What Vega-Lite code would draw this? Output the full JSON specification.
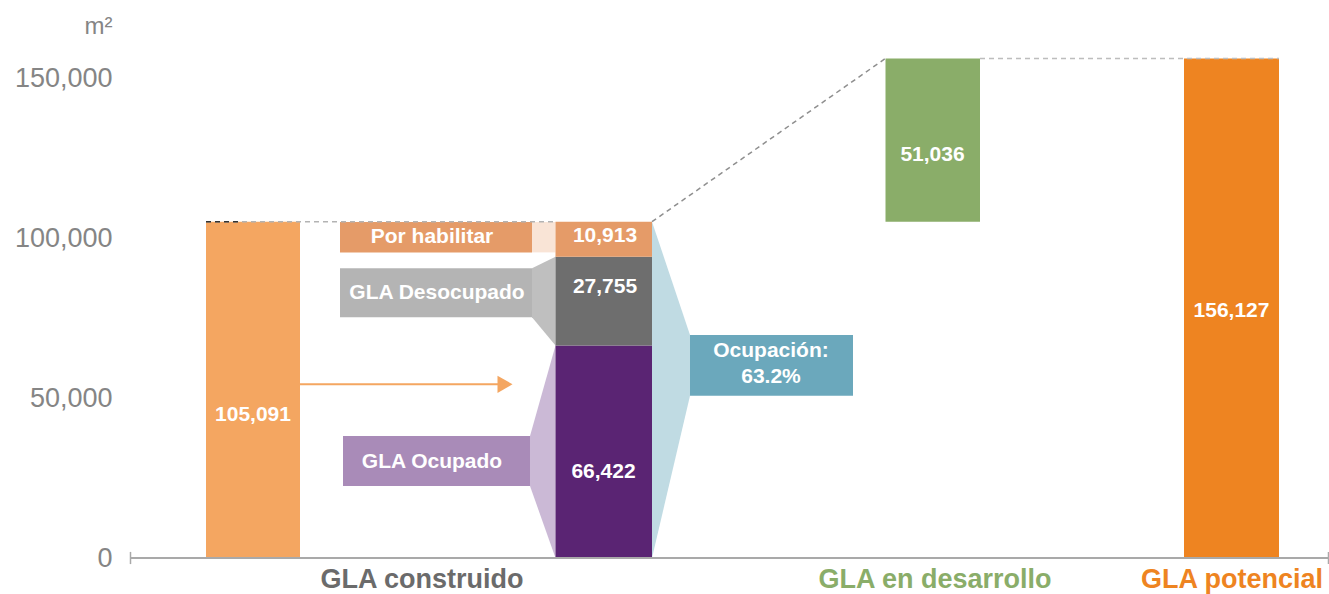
{
  "$schema": "https://vega.github.io/schema/vega-lite/v6.json",
  "width": 1199,
  "height": 528,
  "autosize": {"type": "none"},
  "padding": {"left": 130, "top": 30, "right": 0, "bottom": 36},
  "background": "white",
  "config": {
    "view": {"stroke": null},
    "font": "Liberation Sans",
    "axisY": {"domain": false, "ticks": false, "grid": false,
      "labelPadding": 18, "labelFontSize": 27, "labelColor": "#858585", "labelFont": "Liberation Sans",
      "titleAngle": 0, "titleX": -32, "titleY": -4, "titleAlign": "center", "titleBaseline": "middle",
      "titleFontSize": 24, "titleFontWeight": "normal", "titleColor": "#858585", "titleFont": "Liberation Sans"}
  },
  "resolve": {"scale": {"color": "independent"}},
  "datasets": {
    "bars": [
      {"name": "construido", "x0": 7.6, "x1": 17.0, "lo": 0, "hi": 105091},
      {"name": "ocupado", "x0": 42.55, "x1": 52.2, "lo": 0, "hi": 66422},
      {"name": "desocupado", "x0": 42.55, "x1": 52.2, "lo": 66422, "hi": 94177},
      {"name": "por_habilitar", "x0": 42.55, "x1": 52.2, "lo": 94177, "hi": 105090},
      {"name": "desarrollo", "x0": 75.55, "x1": 85.0, "lo": 105091, "hi": 156127},
      {"name": "potencial", "x0": 105.4, "x1": 114.9, "lo": 0, "hi": 156127},
      {"name": "box_por", "x0": 21.0, "x1": 40.2, "lo": 95500, "hi": 105000},
      {"name": "box_des", "x0": 21.0, "x1": 40.2, "lo": 75220, "hi": 90530},
      {"name": "box_ocu", "x0": 21.3, "x1": 40.0, "lo": 22500, "hi": 38125},
      {"name": "box_ocup", "x0": 56.0, "x1": 72.3, "lo": 50720, "hi": 69690}
    ],
    "links": [
      {"link": "por", "x": 40.2, "top": 105000, "bot": 95500},
      {"link": "por", "x": 42.55, "top": 105000, "bot": 95500},
      {"link": "des", "x": 40.2, "top": 90530, "bot": 75220},
      {"link": "des", "x": 42.55, "top": 94177, "bot": 66422},
      {"link": "ocu", "x": 40.0, "top": 38125, "bot": 22500},
      {"link": "ocu", "x": 42.55, "top": 66422, "bot": 0},
      {"link": "ocup", "x": 52.2, "top": 105090, "bot": 0},
      {"link": "ocup", "x": 56.0, "top": 69690, "bot": 50720}
    ],
    "dashes": [
      {"seg": "a", "x": 7.6, "y": 105091},
      {"seg": "a", "x": 42.55, "y": 105091},
      {"seg": "d", "x": 7.6, "y": 105091},
      {"seg": "d", "x": 11.0, "y": 105091},
      {"seg": "b", "x": 52.2, "y": 105090},
      {"seg": "b", "x": 75.55, "y": 156127},
      {"seg": "c", "x": 85.0, "y": 156127},
      {"seg": "c", "x": 114.9, "y": 156127}
    ],
    "arrow": [
      {"x": 17.0, "y": 54280},
      {"x": 36.8, "y": 54280}
    ],
    "arrowhead": [
      {"x": 37.5, "y": 54280}
    ],
    "axisline": [
      {"x": 0, "x2": 119.9, "y": 0}
    ],
    "caps": [
      {"x": 0.05, "y": -1900, "y2": 1900},
      {"x": 119.85, "y": -1900, "y2": 1900}
    ],
    "values": [
      {"t": "105,091", "x": 12.3, "y": 44700},
      {"t": "10,913", "x": 47.5, "y": 100500},
      {"t": "27,755", "x": 47.5, "y": 84700},
      {"t": "66,422", "x": 47.35, "y": 26900},
      {"t": "51,036", "x": 80.25, "y": 125900},
      {"t": "156,127", "x": 110.15, "y": 77200},
      {"t": "Por habilitar", "x": 30.2, "y": 100300},
      {"t": "GLA Desocupado", "x": 30.7, "y": 82800},
      {"t": "GLA Ocupado", "x": 30.2, "y": 30100},
      {"t": ["Ocupación:", "63.2%"], "x": 64.1, "y": 64690}
    ],
    "cats": [
      {"t": "GLA construido", "x": 29.2, "y": -9300},
      {"t": "GLA en desarrollo", "x": 80.5, "y": -9300},
      {"t": "GLA potencial", "x": 110.2, "y": -9300}
    ]
  },
  "layer": [
    {
      "data": {"name": "links"},
      "mark": {"type": "area", "opacity": 1},
      "encoding": {
        "x": {"field": "x", "type": "quantitative", "scale": {"domain": [0, 119.9], "nice": false, "zero": false}, "axis": null},
        "y": {"field": "top", "type": "quantitative", "scale": {"domain": [0, 165000], "nice": false, "zero": false},
          "axis": {"values": [0, 50000, 100000, 150000], "format": ",.0f", "title": "m²"}},
        "y2": {"field": "bot"},
        "color": {"field": "link", "type": "nominal", "legend": null,
          "scale": {"domain": ["por", "des", "ocu", "ocup"], "range": ["#f9e4d6", "#bfbfbf", "#cbb9d6", "#c0dbe3"]}}
      }
    },
    {
      "data": {"name": "bars"},
      "mark": {"type": "rect"},
      "encoding": {
        "x": {"field": "x0", "type": "quantitative", "scale": {"domain": [0, 119.9], "nice": false, "zero": false}, "axis": null},
        "x2": {"field": "x1"},
        "y": {"field": "lo", "type": "quantitative", "scale": {"domain": [0, 165000], "nice": false, "zero": false},
          "axis": {"values": [0, 50000, 100000, 150000], "format": ",.0f", "title": "m²"}},
        "y2": {"field": "hi"},
        "color": {"field": "name", "type": "nominal", "legend": null,
          "scale": {"domain": ["construido", "ocupado", "desocupado", "por_habilitar", "desarrollo", "potencial", "box_por", "box_des", "box_ocu", "box_ocup"],
            "range": ["#f4a661", "#5a2473", "#6e6e6e", "#e59b68", "#8aad69", "#ee8421", "#e59b68", "#b4b4b4", "#a98bb8", "#6ba8bc"]}}
      }
    },
    {
      "data": {"name": "dashes"},
      "mark": {"type": "line", "strokeDash": [5, 4], "strokeWidth": 1.5},
      "encoding": {
        "x": {"field": "x", "type": "quantitative", "scale": {"domain": [0, 119.9], "nice": false, "zero": false}, "axis": null},
        "y": {"field": "y", "type": "quantitative", "scale": {"domain": [0, 165000], "nice": false, "zero": false},
          "axis": {"values": [0, 50000, 100000, 150000], "format": ",.0f", "title": "m²"}},
        "color": {"field": "seg", "type": "nominal", "legend": null,
          "scale": {"domain": ["a", "b", "c", "d"], "range": ["#b3b3b3", "#8f8f8f", "#bdbdbd", "#333333"]}}
      }
    },
    {
      "data": {"name": "arrow"},
      "mark": {"type": "line", "color": "#f4a661", "strokeWidth": 2},
      "encoding": {
        "x": {"field": "x", "type": "quantitative", "scale": {"domain": [0, 119.9], "nice": false, "zero": false}, "axis": null},
        "y": {"field": "y", "type": "quantitative", "scale": {"domain": [0, 165000], "nice": false, "zero": false},
          "axis": {"values": [0, 50000, 100000, 150000], "format": ",.0f", "title": "m²"}}
      }
    },
    {
      "data": {"name": "arrowhead"},
      "mark": {"type": "point", "shape": "triangle-right", "size": 300, "filled": true, "color": "#f4a661", "opacity": 1},
      "encoding": {
        "x": {"field": "x", "type": "quantitative", "scale": {"domain": [0, 119.9], "nice": false, "zero": false}, "axis": null},
        "y": {"field": "y", "type": "quantitative", "scale": {"domain": [0, 165000], "nice": false, "zero": false},
          "axis": {"values": [0, 50000, 100000, 150000], "format": ",.0f", "title": "m²"}}
      }
    },
    {
      "data": {"name": "axisline"},
      "mark": {"type": "rule", "color": "#a9a9a9", "strokeWidth": 2},
      "encoding": {
        "x": {"field": "x", "type": "quantitative", "scale": {"domain": [0, 119.9], "nice": false, "zero": false}, "axis": null},
        "x2": {"field": "x2"},
        "y": {"field": "y", "type": "quantitative", "scale": {"domain": [0, 165000], "nice": false, "zero": false},
          "axis": {"values": [0, 50000, 100000, 150000], "format": ",.0f", "title": "m²"}}
      }
    },
    {
      "data": {"name": "caps"},
      "mark": {"type": "rule", "color": "#a9a9a9", "strokeWidth": 1.5},
      "encoding": {
        "x": {"field": "x", "type": "quantitative", "scale": {"domain": [0, 119.9], "nice": false, "zero": false}, "axis": null},
        "y": {"field": "y", "type": "quantitative", "scale": {"domain": [0, 165000], "nice": false, "zero": false},
          "axis": {"values": [0, 50000, 100000, 150000], "format": ",.0f", "title": "m²"}},
        "y2": {"field": "y2"}
      }
    },
    {
      "data": {"name": "values"},
      "mark": {"type": "text", "color": "white", "fontWeight": "bold", "fontSize": 21, "align": "center", "baseline": "middle", "lineHeight": 26, "font": "Liberation Sans"},
      "encoding": {
        "x": {"field": "x", "type": "quantitative", "scale": {"domain": [0, 119.9], "nice": false, "zero": false}, "axis": null},
        "y": {"field": "y", "type": "quantitative", "scale": {"domain": [0, 165000], "nice": false, "zero": false},
          "axis": {"values": [0, 50000, 100000, 150000], "format": ",.0f", "title": "m²"}},
        "text": {"field": "t"}
      }
    },
    {
      "data": {"name": "cats"},
      "mark": {"type": "text", "fontWeight": "bold", "fontSize": 27, "align": "center", "baseline": "alphabetic", "font": "Liberation Sans"},
      "encoding": {
        "x": {"field": "x", "type": "quantitative", "scale": {"domain": [0, 119.9], "nice": false, "zero": false}, "axis": null},
        "y": {"field": "y", "type": "quantitative", "scale": {"domain": [0, 165000], "nice": false, "zero": false},
          "axis": {"values": [0, 50000, 100000, 150000], "format": ",.0f", "title": "m²"}},
        "text": {"field": "t"},
        "color": {"field": "t", "type": "nominal", "legend": null,
          "scale": {"domain": ["GLA construido", "GLA en desarrollo", "GLA potencial"], "range": ["#6b6b6b", "#8aad69", "#ee8421"]}}
      }
    }
  ]
}
